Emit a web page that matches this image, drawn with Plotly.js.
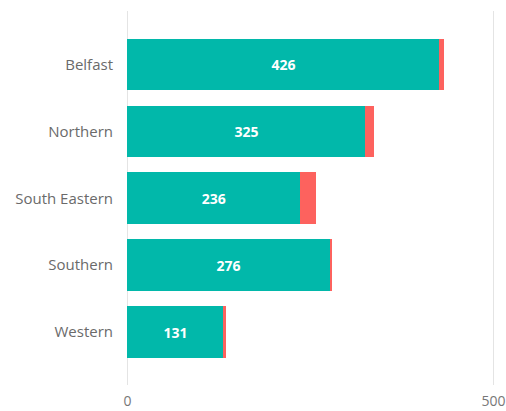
<!DOCTYPE html>
<html>
<head>
<meta charset="utf-8">
<script src="https://cdn.plot.ly/plotly-3.0.1.min.js"></script>
<style>html,body{margin:0;padding:0;background:#fff;}#chart{width:506px;height:411px;}</style>
</head>
<body>
<div id="chart"></div>
<script>
const categories = ["Belfast", "Northern", "South Eastern", "Southern", "Western"];
const tealValues = [426, 325, 236, 276, 131];
const redValues = [6, 12, 22, 3, 4];
const xTickValues = [0, 500];
const xTickLabels = ["0", "500"];

const traces = [
  {
    type: "bar", orientation: "h",
    y: categories, x: tealValues,
    marker: {color: "#01B8AA"},
    text: tealValues.map(String),
    textposition: "inside", insidetextanchor: "middle",
    textfont: {family: "Open Sans", size: 14, color: "#ffffff", weight: 700},
    hoverinfo: "x+y", name: "A"
  },
  {
    type: "bar", orientation: "h",
    y: categories, x: redValues,
    marker: {color: "#FD625E"},
    textposition: "none",
    hoverinfo: "x+y", name: "B"
  }
];

const layout = {
  width: 506, height: 411,
  margin: {l: 125.5, r: 11.2, t: 11, b: 26, pad: 0},
  barmode: "stack",
  bargap: 0.226,
  showlegend: false,
  paper_bgcolor: "#ffffff", plot_bgcolor: "#ffffff",
  font: {family: "Open Sans", color: "#666666"},
  xaxis: {
    range: [-2, 502],
    tickvals: xTickValues, ticktext: xTickLabels,
    showgrid: true, gridcolor: "#e4e4e4", gridwidth: 1.5,
    zeroline: false, showline: false,
    ticks: "outside", ticklen: 3, tickcolor: "rgba(0,0,0,0)",
    tickfont: {size: 14, color: "#777777"}
  },
  yaxis: {
    type: "category",
    categoryorder: "array", categoryarray: categories,
    range: [4.79, -0.8],
    showgrid: false, zeroline: false, showline: false,
    ticks: "outside", ticklen: 9, tickcolor: "rgba(0,0,0,0)",
    tickfont: {size: 15, color: "#6a6a6a"}
  }
};

Plotly.newPlot("chart", traces, layout, {displayModeBar: false, staticPlot: true});
</script>
</body>
</html>
